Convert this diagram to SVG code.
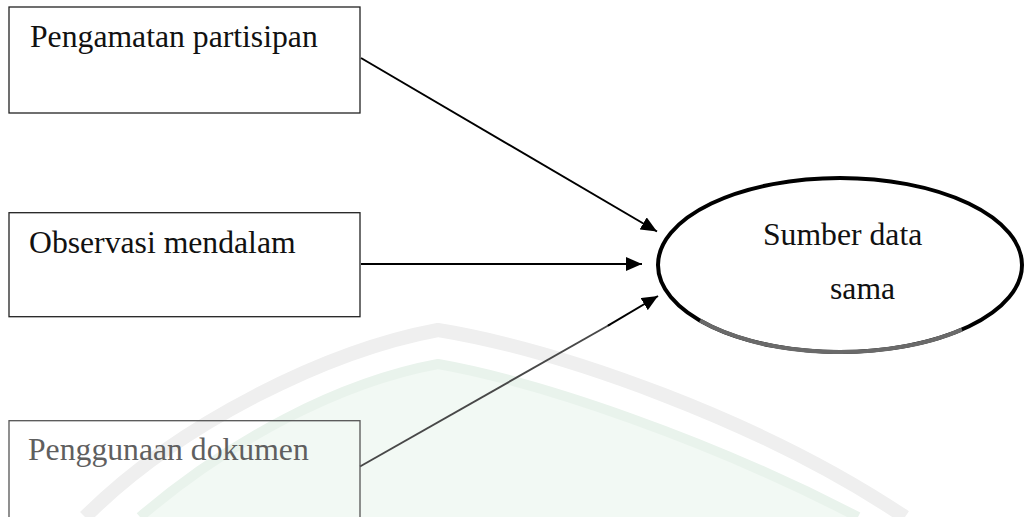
<svg xmlns="http://www.w3.org/2000/svg" width="1025" height="517" viewBox="0 0 1025 517">
  <style>
    .box { fill: none; stroke: #222; stroke-width: 1.3; }
    .box.faded { stroke: #555; }
    .label { font-family: "Liberation Serif", "Times New Roman", serif; font-size: 31.7px; fill: #111; }
    .label.faded { fill: #5f5f5f; }
    .conn { fill: none; stroke: #000; stroke-width: 2; }
    .conn.faded { stroke: #484848; }
  </style>
  <defs>
    <marker id="arrow" viewBox="0 0 16 14" refX="16" refY="7" markerWidth="16" markerHeight="14" markerUnits="userSpaceOnUse" orient="auto">
      <path d="M0,0 L16,7 L0,14 Z" fill="#000"/>
    </marker>
  </defs>
  <rect width="1025" height="517" fill="#fff"/>

  <g id="watermark">
    <path d="M140 517 C230 440 340 382 438 364 C540 382 710 440 858 517 Z" fill="#f2f9f4"/>
    <path d="M140 517 C230 440 340 382 438 364 C540 382 710 440 858 517" fill="none" stroke="#e9f3ec" stroke-width="10"/>
    <path d="M85 517 C180 422 330 350 438 330 C560 350 760 420 905 517" fill="none" stroke="#efefef" stroke-width="14"/>
  </g>

  <g id="connectors">
    <line class="conn" x1="361" y1="58" x2="657" y2="231.5" marker-end="url(#arrow)"/>
    <line class="conn" x1="361" y1="264" x2="642" y2="264" marker-end="url(#arrow)"/>
    <line class="conn faded" x1="360" y1="466.5" x2="610" y2="324.5"/>
    <line class="conn" x1="608" y1="325.6" x2="658" y2="296" marker-end="url(#arrow)"/>
  </g>

  <g id="node-pengamatan">
    <rect class="box" x="9" y="7" width="351" height="106"/>
    <text class="label" x="30" y="47">Pengamatan partisipan</text>
  </g>

  <g id="node-observasi">
    <rect class="box" x="9" y="212.7" width="351" height="104"/>
    <text class="label" x="29" y="253">Observasi mendalam</text>
  </g>

  <g id="node-penggunaan">
    <rect class="box faded" x="9" y="420.7" width="351" height="110"/>
    <text class="label faded" x="28" y="460">Penggunaan dokumen</text>
  </g>

  <g id="node-sumber">
    <ellipse cx="840" cy="265" rx="182" ry="87" fill="none" stroke="#000" stroke-width="4"/>
    <path d="M700 320.6 A182 87 0 0 0 962 329.6" fill="none" stroke="#6a6a6a" stroke-width="4"/>
    <text class="label" x="763" y="245">Sumber data</text>
    <text class="label" x="830" y="299">sama</text>
  </g>
</svg>
